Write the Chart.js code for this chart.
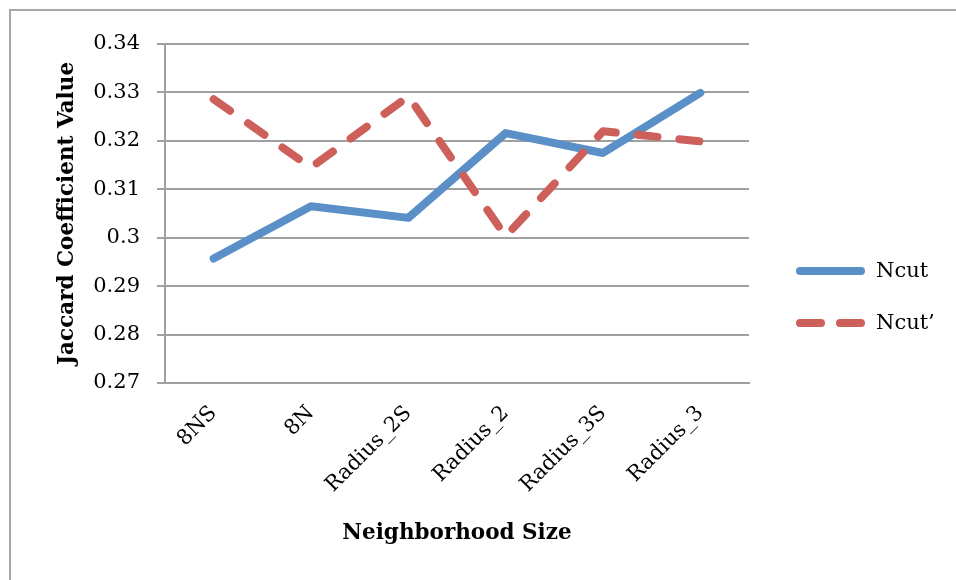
<!DOCTYPE html>
<html>
<head>
<meta charset="utf-8">
<script src="https://cdn.jsdelivr.net/npm/chart.js@4.4.0/dist/chart.umd.min.js"></script>
<style>
  html, body { margin: 0; padding: 0; background: #fff; overflow: hidden; }
  #wrap { position: relative; width: 956px; height: 580px; }
  #frame { position: absolute; left: 9px; top: 9px; width: 1000px; height: 1000px;
           border: 2px solid #a8a8a8; box-sizing: border-box; pointer-events: none; }
  canvas { position: absolute; left: 0; top: 0; }
</style>
</head>
<body>
<div id="wrap">
  <canvas id="chart" width="956" height="580"></canvas>
  <div id="frame"></div>
</div>
<script>
const categories = ['8NS', '8N', 'Radius_2S', 'Radius_2', 'Radius_3S', 'Radius_3'];
const ncut = [0.2957, 0.3065, 0.3041, 0.3216, 0.3175, 0.3299];
const ncutPrime = [0.3286, 0.3145, 0.3292, 0.3003, 0.3220, 0.3199];
const yTicks = [0.27, 0.28, 0.29, 0.30, 0.31, 0.32, 0.33, 0.34];

const blue = '#5b8fc7';
const red = '#cd605a';
const gridColor = '#a0a0a0';
const serif = 'DejaVu Serif';

// legend drawn by hand so it sits where the Excel one does
const sideLegend = {
  id: 'sideLegend',
  afterDraw(chart) {
    const ctx = chart.ctx;
    const x0 = chart.chartArea.right + 47;
    const rows = [271, 323];
    chart.data.datasets.forEach(function(ds, i) {
      const y = rows[i];
      ctx.save();
      ctx.strokeStyle = ds.borderColor;
      ctx.lineWidth = ds.borderWidth;
      ctx.lineCap = 'round';
      ctx.setLineDash(ds.borderDash && ds.borderDash.length ? [21, 19] : []);
      ctx.beginPath();
      ctx.moveTo(x0 + 4, y);
      ctx.lineTo(x0 + 65, y);
      ctx.stroke();
      ctx.setLineDash([]);
      ctx.fillStyle = '#000';
      ctx.font = '21px "' + serif + '"';
      ctx.textBaseline = 'middle';
      ctx.fillText(ds.label, x0 + 80, y + 1);
      ctx.restore();
    });
  }
};

new Chart(document.getElementById('chart'), {
  type: 'line',
  data: {
    labels: categories,
    datasets: [{
      label: 'Ncut',
      data: ncut,
      borderColor: blue,
      backgroundColor: blue,
      borderWidth: 8,
      borderCapStyle: 'round',
      borderJoinStyle: 'round',
      pointRadius: 0,
      tension: 0,
      order: 1
    }, {
      label: 'Ncut\u2019',
      data: ncutPrime,
      borderColor: red,
      backgroundColor: red,
      borderWidth: 8,
      borderDash: [20, 22],
      borderCapStyle: 'round',
      borderJoinStyle: 'round',
      pointRadius: 0,
      tension: 0,
      order: 0
    }]
  },
  options: {
    responsive: false,
    animation: false,
    events: [],
    layout: { padding: { left: 0, top: 44, right: 207, bottom: 0 } },
    plugins: {
      legend: { display: false },
      tooltip: { enabled: false }
    },
    scales: {
      x: {
        offset: true,
        grid: { display: false },
        border: { display: true, color: gridColor, width: 2 },
        ticks: {
          autoSkip: false,
          maxRotation: 45,
          minRotation: 45,
          padding: 10,
          color: '#000',
          font: { family: serif, size: 21 }
        },
        title: {
          display: true,
          text: 'Neighborhood Size',
          color: '#000',
          padding: { top: 0, bottom: 34 },
          font: { family: serif, size: 21.5, weight: 'bold' }
        },
        afterFit: function(scale) { scale.height = 197; }
      },
      y: {
        min: 0.27,
        max: 0.34,
        afterBuildTicks: function(scale) {
          scale.ticks = yTicks.map(function(v) { return { value: v }; });
        },
        grid: { color: gridColor, lineWidth: 2, tickLength: 8, drawTicks: true },
        border: { display: true, color: gridColor, width: 2 },
        ticks: {
          padding: 17,
          color: '#000',
          font: { family: serif, size: 21 },
          callback: function(v) { return String(parseFloat(v.toFixed(2))); }
        },
        title: {
          display: true,
          text: 'Jaccard Coefficient Value',
          color: '#000',
          padding: { top: 55, bottom: 0 },
          font: { family: serif, size: 21.5, weight: 'bold' }
        },
        afterFit: function(scale) { scale.width = 165; }
      }
    }
  },
  plugins: [sideLegend]
});
</script>
</body>
</html>
